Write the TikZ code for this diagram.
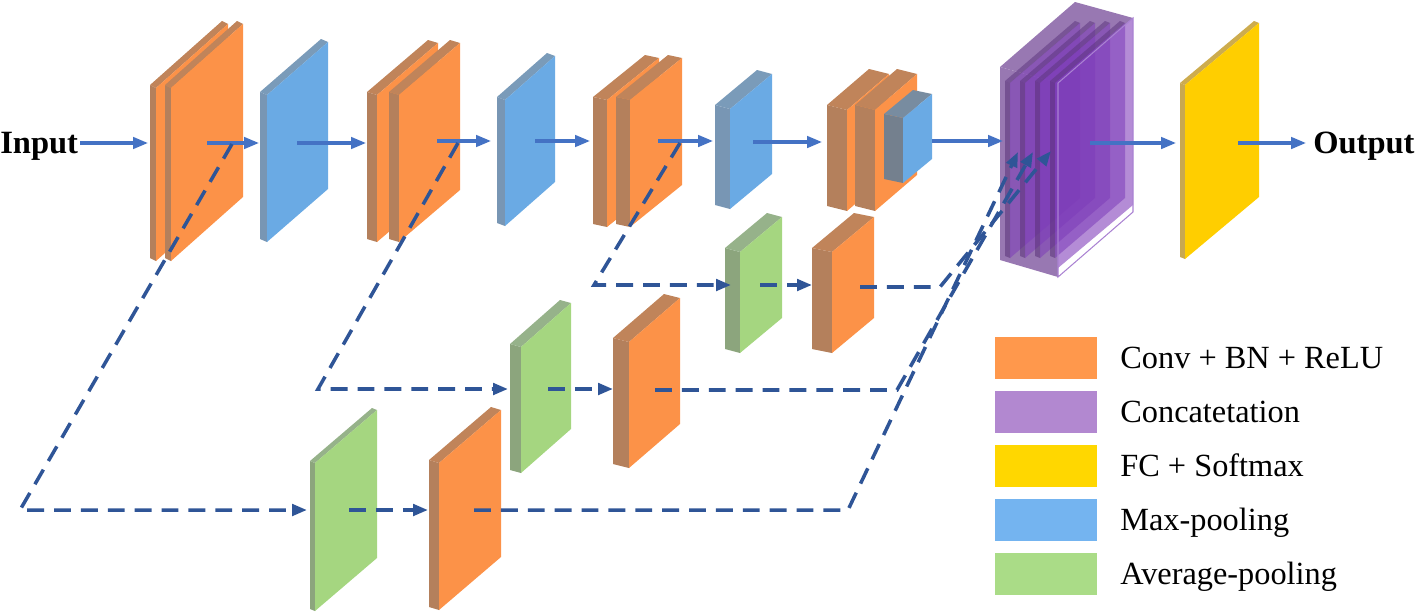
\documentclass[tikz,border=0pt]{standalone}
\usepackage{fontspec}
\setmainfont{Liberation Serif}
\usetikzlibrary{arrows.meta}
\definecolor{ofront}{RGB}{252,146,72}
\definecolor{oside}{RGB}{180,128,92}
\definecolor{otop}{RGB}{192,132,90}
\definecolor{oshade}{RGB}{170,90,30}
\definecolor{bfront}{RGB}{106,170,228}
\definecolor{bside}{RGB}{120,150,180}
\definecolor{btop}{RGB}{122,155,185}
\definecolor{bbfront}{RGB}{106,170,228}
\definecolor{bbside}{RGB}{116,128,142}
\definecolor{bbtop}{RGB}{120,140,160}
\definecolor{gfront}{RGB}{165,214,128}
\definecolor{gside}{RGB}{140,165,125}
\definecolor{gtop}{RGB}{150,178,138}
\definecolor{yfront}{RGB}{255,206,0}
\definecolor{yside}{RGB}{200,168,80}
\definecolor{ytop}{RGB}{205,172,78}
\definecolor{plight}{RGB}{180,140,214}
\definecolor{pouter}{RGB}{152,120,178}
\definecolor{pfront}{RGB}{125,60,185}
\definecolor{pside}{RGB}{90,50,120}
\definecolor{ptop}{RGB}{95,55,128}
\definecolor{pedge}{RGB}{170,130,210}
\definecolor{flowc}{RGB}{68,114,196}
\definecolor{skipc}{RGB}{47,85,151}
\definecolor{lo}{RGB}{255,152,76}
\definecolor{lp}{RGB}{178,136,208}
\definecolor{ly}{RGB}{255,215,0}
\definecolor{lb}{RGB}{116,180,240}
\definecolor{lg}{RGB}{170,220,135}
% #1 x front-left, #2 y top-left, #3 width, #4 height, #5 rise, #6 depth dx, #7 depth dy, #8 colour prefix
\newcommand\drawslab[8]{%
  \fill[#8side] (#1,#2) -- (#1,{#2+#4}) -- ({#1-#6},{#2+#4-#7}) -- ({#1-#6},{#2-#7}) -- cycle;
  \fill[#8top] (#1,#2) -- ({#1+#3},{#2-#5}) -- ({#1+#3-#6},{#2-#5-#7}) -- ({#1-#6},{#2-#7}) -- cycle;
  \fill[#8front] (#1,#2) -- ({#1+#3},{#2-#5}) -- ({#1+#3},{#2-#5+#4}) -- (#1,{#2+#4}) -- cycle;
}
% double slab: #1 xa, #2 xb, #3 y, #4 w, #5 h, #6 rise, #7 dx, #8 dy
\newcommand\pairslab[8]{%
  \drawslab{#1}{#3}{#4}{#5}{#6}{#7}{#8}{o}
  \drawslab{#2}{#3}{#4}{#5}{#6}{#7}{#8}{o}
  \begin{scope}
    \clip (#2,#3) -- ({#2+#4},{#3-#6}) -- ({#2+#4},{#3-#6+#5}) -- (#2,{#3+#5}) -- cycle;
    \fill[oshade, fill opacity=0.35] (#1,#3) -- ({#1+#4},{#3-#6}) -- ({#1+#4-#7},{#3-#6-#8}) -- ({#1-#7},{#3-#8}) -- cycle;
  \end{scope}
}
\tikzset{
  flow/.style={draw=flowc, line width=1.8pt, -{Triangle[length=8.5pt,width=6.5pt]}},
  skip/.style={draw=skipc, line width=2pt, dash pattern=on 9.6pt off 5.7pt, -{Triangle[length=8.5pt,width=6.5pt]}},
  lbl/.style={font=\fontsize{18.5}{22}\selectfont\bfseries, inner sep=0pt, anchor=base west},
  legtxt/.style={font=\fontsize{18.4}{22}\selectfont, inner sep=0pt, anchor=base west},
  legbox/.style={inner sep=0pt, minimum width=2.06cm, minimum height=0.86cm, draw=white, line width=0.4pt},
}
\begin{document}
\begin{tikzpicture}[x=0.02cm, y=-0.02cm]
\useasboundingbox (0,0) rectangle (1419,612);
% top row
\pairslab{156}{171}{88}{72}{173}{64}{6}{3}
\drawslab{267}{95}{61}{147}{53}{7}{3}{b}
\pairslab{377}{399}{95}{61}{147}{52}{10}{3}
\drawslab{505}{100}{50}{126}{44}{8}{3}{b}
\pairslab{607}{630}{100}{52}{127}{42}{14}{3}
\drawslab{730}{109}{42}{100}{35}{15}{4}{b}
\pairslab{847}{875}{110}{42}{101}{36}{20}{5}
\drawslab{903}{118}{29}{65}{24}{19}{4}{bb}
% lower rows
\drawslab{740}{252}{42}{101}{35}{15}{4}{g}
\drawslab{832}{252}{42}{101}{35}{20}{4}{o}
\drawslab{521}{347}{50}{126}{44}{11}{3}{g}
\drawslab{629}{342}{51}{126}{44}{16}{4}{o}
\drawslab{315}{463}{62}{148}{53}{5}{2}{g}
\drawslab{439}{463}{62}{147}{53}{10}{3}{o}
% concatenation block
\fill[plight] (1058,83) -- (1133,18) -- (1133,205) -- (1058,268) -- cycle;
\fill[pouter] (1000,67) -- (1000,260) -- (1058,277) -- (1058,83) -- cycle;
\fill[pouter] (1000,67) -- (1075,2) -- (1133,18) -- (1058,83) -- cycle;
\begin{scope}[fill opacity=0.55]
\foreach \i in {0,1,2,3}{
  \drawslab{1010+15*\i}{83}{70}{175}{60}{5}{2}{p}
}
\end{scope}
\draw[pedge, line width=0.6pt] (1058,83) -- (1133,18) -- (1133,212) -- (1058,277) -- cycle;
% FC + softmax
\drawslab{1185}{85}{74}{174}{62}{5}{2}{y}
% labels
\node[lbl] (input) at (0,153) {Input};
\node[lbl] (output) at (1313,153) {Output};
% main flow
\coordinate (i0) at (80,143);   \coordinate (i1) at (148,143);
\coordinate (c1) at (207,143);  \coordinate (p1) at (259,143);
\coordinate (p1o) at (297,143); \coordinate (c2) at (366,143);
\coordinate (c2o) at (437,141); \coordinate (p2) at (491,141);
\coordinate (p2o) at (535,141); \coordinate (c3) at (590,141);
\coordinate (c3o) at (658,141); \coordinate (p3) at (713,141);
\coordinate (p3o) at (753,142); \coordinate (c4) at (822,142);
\coordinate (c4o) at (932,141); \coordinate (cat) at (1003,141);
\coordinate (cato) at (1090,143); \coordinate (fc) at (1176,143);
\coordinate (fco) at (1238,143); \coordinate (out) at (1306,143);
\draw[flow] (i0) -- (i1);
\draw[flow] (c1) -- (p1);
\draw[flow] (p1o) -- (c2);
\draw[flow] (c2o) -- (p2);
\draw[flow] (p2o) -- (c3);
\draw[flow] (c3o) -- (p3);
\draw[flow] (p3o) -- (c4);
\draw[flow] (c4o) -- (cat);
\draw[flow] (cato) -- (fc);
\draw[flow] (fco) -- (out);
% skip branch A
\coordinate (a0) at (232,144); \coordinate (a1) at (20,510); \coordinate (a2) at (307,510);
\coordinate (a3) at (349,510); \coordinate (a4) at (428,510);
\coordinate (a5) at (474,510); \coordinate (a6) at (848,510); \coordinate (a7) at (1018,152);
\draw[skip] (a0) -- (a1) -- (a2);
\draw[skip] (a3) -- (a4);
\draw[skip] (a5) -- (a6) -- (a7);
% skip branch B
\coordinate (b0) at (458,143); \coordinate (b1) at (318,389); \coordinate (b2) at (508,389);
\coordinate (b3) at (548,389); \coordinate (b4) at (613,389);
\coordinate (b5) at (655,390); \coordinate (b6) at (897,390); \coordinate (b7) at (1033,152);
\draw[skip] (b0) -- (b1) -- (b2);
\draw[skip] (b3) -- (b4);
\draw[skip] (b5) -- (b6) -- (b7);
% skip branch C
\coordinate (k0) at (680,143); \coordinate (k1) at (594,285); \coordinate (k2) at (731,285);
\coordinate (k3) at (760,285); \coordinate (k4) at (812,285);
\coordinate (k5) at (860,287); \coordinate (k6) at (940,287); \coordinate (k7) at (1051,151);
\draw[skip] (k0) -- (k1) -- (k2);
\draw[skip] (k3) -- (k4);
\draw[skip] (k5) -- (k6) -- (k7);
% legend
\node[legbox, fill=lo] (l1) at (1046,357.5) {};
\node[legbox, fill=lp] (l2) at (1046,411.5) {};
\node[legbox, fill=ly] (l3) at (1046,465.5) {};
\node[legbox, fill=lb] (l4) at (1046,519.5) {};
\node[legbox, fill=lg] (l5) at (1046,573.5) {};
\node[legtxt] (t1) at (1120,368) {Conv + BN + ReLU};
\node[legtxt] (t2) at (1120,422) {Concatetation};
\node[legtxt] (t3) at (1120,476) {FC + Softmax};
\node[legtxt] (t4) at (1120,530) {Max-pooling};
\node[legtxt] (t5) at (1120,584) {Average-pooling};
\end{tikzpicture}
\end{document}
